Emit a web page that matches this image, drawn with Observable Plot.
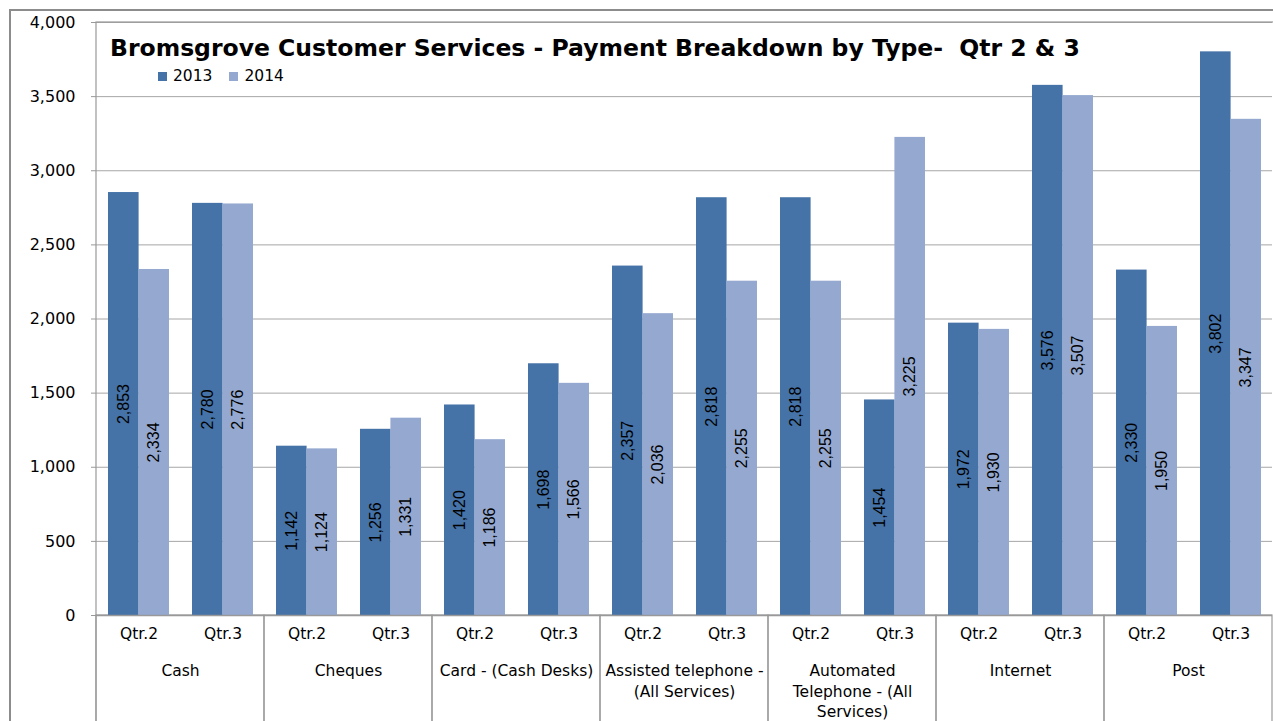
<!DOCTYPE html>
<html>
<head>
<meta charset="utf-8">
<script src="https://cdn.jsdelivr.net/npm/d3@7"></script>
<script src="https://cdn.jsdelivr.net/npm/@observablehq/plot@0.6"></script>
<style>
  html, body { margin: 0; padding: 0; background: #fff; overflow: hidden; }
  #wrap { position: relative; width: 1273px; height: 721px; }
  #frame { position: absolute; left: 9px; top: 9px; width: 1300px; height: 800px;
           border-left: 2px solid #8c8c8c; border-top: 2px solid #8c8c8c; pointer-events: none; }
  #title { position: absolute; left: 110px; top: 37px; font-family: "DejaVu Sans", sans-serif;
           font-weight: bold; font-size: 23.5px; line-height: 1; color: #000; white-space: pre; }
  #legend { position: absolute; left: 158px; top: 67px; font-family: "DejaVu Sans", sans-serif;
            font-size: 15.5px; color: #000; display: flex; gap: 17px; }
  #legend span.item { display: flex; align-items: center; }
  #legend span.sw { display: inline-block; width: 9px; height: 9px; margin-right: 6px; }
  #chart { position: absolute; left: 0; top: 0; }
</style>
</head>
<body>
<div id="wrap">
  <div id="chart"></div>
  <div id="frame"></div>
  <div id="title"></div>
  <div id="legend"></div>
</div>
<script>
const categories = ["Cash", "Cheques", "Card - (Cash Desks)", "Assisted telephone - (All Services)",
  "Automated Telephone - (All Services)", "Internet", "Post"];
const categoryLabels = ["Cash", "Cheques", "Card - (Cash Desks)", "Assisted telephone -\n(All Services)",
  "Automated\nTelephone - (All\nServices)", "Internet", "Post"];
const quarters = ["Qtr.2", "Qtr.3"];
const years = ["2013", "2014"];
const yearColors = ["#4572A7", "#95A9D0"];
const qtr2_2013 = [2853, 1142, 1420, 2357, 2818, 1972, 2330];
const qtr2_2014 = [2334, 1124, 1186, 2036, 2255, 1930, 1950];
const qtr3_2013 = [2780, 1256, 1698, 2818, 1454, 3576, 3802];
const qtr3_2014 = [2776, 1331, 1566, 2255, 3225, 3507, 3347];
const yTicks = [0, 500, 1000, 1500, 2000, 2500, 3000, 3500, 4000];
const titleText = "Bromsgrove Customer Services - Payment Breakdown by Type-  Qtr 2 & 3";

const rows = [];
const series = {"Qtr.2": {"2013": qtr2_2013, "2014": qtr2_2014}, "Qtr.3": {"2013": qtr3_2013, "2014": qtr3_2014}};
categories.forEach((c, i) => {
  quarters.forEach(q => {
    years.forEach(y => rows.push({category: c, quarter: q, year: y, value: series[q][y][i]}));
  });
});

const W = 1273, H = 721, mL = 94, mR = 0, mT = 22, mB = 106;
const yMax = 4000;
const yBottom = -yMax * (mB + 10) / (H - mT - mB);
const pIn = 0.278, pOut = 0.139;
const step = (W - mL - mR) / categories.length / (quarters.length - pIn + 2 * pOut);
const band = step * (1 - pIn);
const half = band / 2;

const fmt = d3.format(",");
const labelOf = new Map(categories.map((c, i) => [c, categoryLabels[i]]));
const rows2013 = rows.filter(d => d.year === years[0]);
const rows2014 = rows.filter(d => d.year === years[1]);
const inBar = {fx: "category", x: "quarter", y: d => d.value / 2, text: d => fmt(d.value), rotate: -90,
  textAnchor: "middle", fontFamily: "Liberation Sans, Arial, sans-serif", fontSize: 16, fill: "#000"};

const chart = Plot.plot({
  width: W, height: H,
  marginLeft: mL, marginRight: mR, marginTop: mT, marginBottom: mB,
  style: {fontFamily: "DejaVu Sans, sans-serif", fontSize: "15px", color: "#000", background: "transparent", overflow: "visible"},
  fx: {domain: categories, padding: 0, axis: null, label: null},
  x: {domain: quarters, paddingInner: pIn, paddingOuter: pOut, axis: null, label: null},
  y: {domain: [0, yMax], axis: null, label: null},
  color: {domain: years, range: yearColors},
  marks: [
    Plot.gridY(yTicks, {stroke: "#a6a6a6", strokeOpacity: 1, strokeWidth: 1}),
    Plot.axisY(yTicks, {tickSize: 5, tickPadding: 16, tickFormat: fmt, stroke: "#999", fontSize: 16, label: null}),
    Plot.rect(categories, {fx: d => d, y1: 0, y2: yBottom, fill: "none", stroke: "#999", strokeWidth: 1.2}),
    Plot.rect([categories[0]], {fx: d => d, y1: yBottom, y2: yMax, insetRight: -3000, fill: "none", stroke: "#999", strokeWidth: 1.2}),
    Plot.barY(rows2013, {fx: "category", x: "quarter", y: "value", fill: "year", insetRight: half, insetLeft: 0}),
    Plot.barY(rows2014, {fx: "category", x: "quarter", y: "value", fill: "year", insetLeft: half, insetRight: 0}),
    Plot.ruleY([0], {stroke: "#999", strokeWidth: 1.5}),
    Plot.text(rows2013, {...inBar, dx: -half / 2}),
    Plot.text(rows2014, {...inBar, dx: half / 2}),
    Plot.text(categories.flatMap(c => quarters.map(q => ({category: c, quarter: q}))),
      {fx: "category", x: "quarter", text: "quarter", frameAnchor: "bottom", dy: 23, fontSize: 15.5, fill: "#000"}),
    Plot.text(categories, {fx: d => d, text: d => labelOf.get(d), frameAnchor: "bottom", lineAnchor: "top",
      dy: 46, fontSize: 15.5, lineHeight: 1.33, fill: "#000"})
  ]
});
document.getElementById("chart").append(chart);

document.getElementById("title").textContent = titleText;
const legend = document.getElementById("legend");
years.forEach((y, i) => {
  const item = document.createElement("span");
  item.className = "item";
  const sw = document.createElement("span");
  sw.className = "sw";
  sw.style.background = yearColors[i];
  item.append(sw, document.createTextNode(y));
  legend.append(item);
});
</script>
</body>
</html>
